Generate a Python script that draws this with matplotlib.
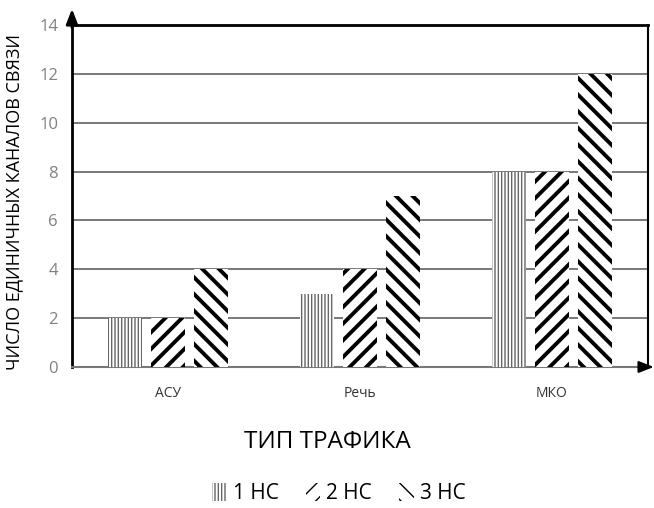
import matplotlib
matplotlib.use("Agg")
import matplotlib.pyplot as plt
import numpy as np

plt.rcParams['font.family'] = ['Open Sans', 'DejaVu Sans']

categories = ["АСУ", "Речь", "МКО"]
series_names = ["1 НС", "2 НС", "3 НС"]
values_1 = [2, 3, 8]
values_2 = [2, 4, 8]
values_3 = [4, 7, 12]
y_ticks = [0, 2, 4, 6, 8, 10, 12, 14]

series = [values_1, values_2, values_3]
hatches = ["|||||", "//", "\\\\"]
hatch_colors = ["#666666", "black", "black"]
hatch_lw = [1.0, 2.8, 2.8]

fig = plt.figure(figsize=(6.54, 5.08), dpi=100)
ax = fig.add_axes([0.1101, 0.2776, 0.8807, 0.6732])

x = np.arange(len(categories))
width = 0.177
step = 0.224
for i, vals in enumerate(series):
    with plt.rc_context({'hatch.linewidth': hatch_lw[i]}):
        bars = ax.bar(x + (i - 1) * step, vals, width, facecolor="white",
                      edgecolor=hatch_colors[i], linewidth=0, hatch=hatches[i],
                      label=series_names[i], zorder=3)
        for b in bars:
            if hasattr(b, "set_hatch_linewidth"):
                b.set_hatch_linewidth(hatch_lw[i])

ax.set_xlim(-0.5, 2.5)
ax.set_ylim(0, 14)
ax.set_yticks(y_ticks)
ax.set_xticks(x)
ax.set_xticklabels(categories, fontsize=10, color="#333333")
ax.tick_params(axis='y', labelsize=12, labelcolor="#808080", length=0, pad=10)
ax.tick_params(axis='x', length=0, pad=14)

for v in y_ticks[1:-1]:
    ax.axhline(v, color="#555555", linewidth=1.1, zorder=1)

for side in ["left", "top", "right"]:
    ax.spines[side].set_color("black")
ax.spines["left"].set_linewidth(2.0)
ax.spines["top"].set_linewidth(2.0)
ax.spines["right"].set_linewidth(1.5)
ax.spines["bottom"].set_color("#777777")
ax.spines["bottom"].set_linewidth(1.5)

ax.set_ylabel("ЧИСЛО ЕДИНИЧНЫХ КАНАЛОВ СВЯЗИ", fontsize=13, color="black")
ax.yaxis.set_label_coords(-0.084, 0.482)
ax.set_xlabel("ТИП ТРАФИКА", fontsize=17.5, color="black")
ax.xaxis.set_label_coords(0.443, -0.185)

# axis arrows
ax.annotate("", xy=(0.1101, 0.988), xytext=(0.1101, 0.94), xycoords="figure fraction",
            arrowprops=dict(arrowstyle="-|>,head_width=0.35,head_length=0.9",
                            color="black", lw=2))
ax.annotate("", xy=(1.004, 0.2776), xytext=(0.985, 0.2776), xycoords="figure fraction",
            arrowprops=dict(arrowstyle="-|>,head_width=0.35,head_length=0.9",
                            color="black", lw=1.5))

fig.legend(loc="center", bbox_to_anchor=(0.518, 0.029), ncol=3, frameon=False,
           fontsize=15, handlelength=0.7, handleheight=1.0, handletextpad=0.3,
           columnspacing=1.3)

fig.savefig("out.png", dpi=100)
